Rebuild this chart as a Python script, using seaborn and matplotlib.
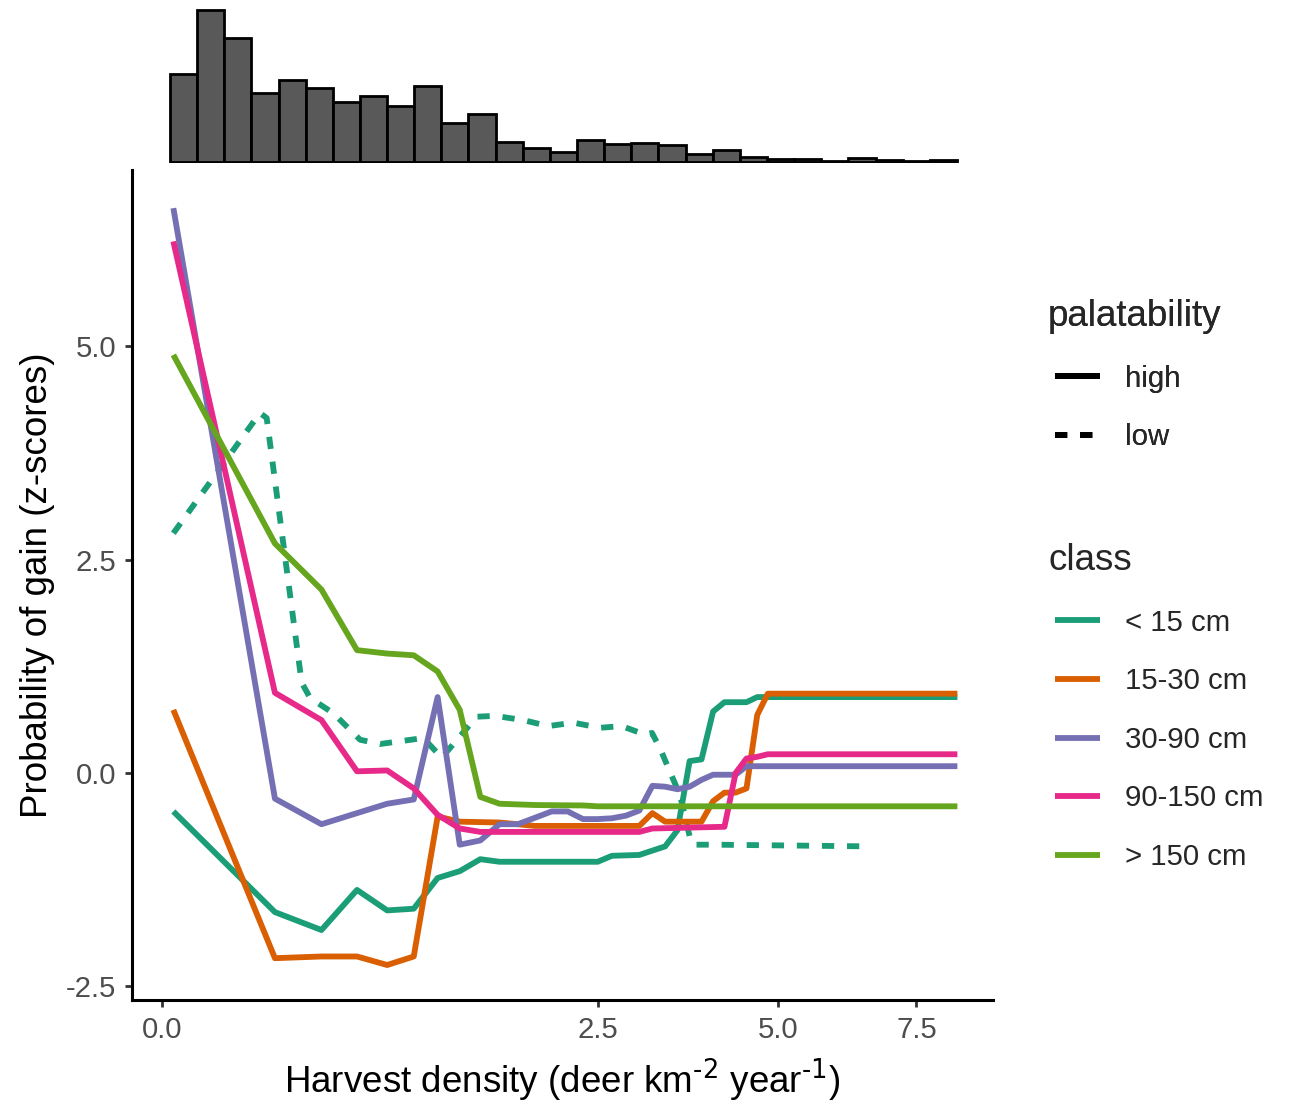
import numpy as np
import pandas as pd
import matplotlib
matplotlib.use("Agg")
import matplotlib.pyplot as plt
import seaborn as sns
from matplotlib.lines import Line2D
from matplotlib.legend_handler import HandlerLine2D

# -------------------------
# Data
# -------------------------
CLASSES = ["< 15 cm", "15-30 cm", "30-90 cm", "90-150 cm", "> 150 cm"]
COLORS = ["#1B9E77", "#D95F02", "#7570B3", "#E7298A", "#66A61E"]

# high palatability curves
x_lt15 = [0.0017, 0.168, 0.335, 0.501, 0.668, 0.835, 1.001, 1.168, 1.335, 1.501,
          2.501, 2.668, 3.001, 3.335, 3.501, 3.668, 3.835, 4.001, 4.168, 4.501,
          4.668, 8.335]
y_lt15 = [-0.45, -1.63, -1.84, -1.37, -1.61, -1.59, -1.23, -1.15, -1.01, -1.04,
          -1.04, -0.97, -0.96, -0.86, -0.67, 0.14, 0.16, 0.72, 0.83, 0.83,
          0.89, 0.89]

x_15_30 = [0.0017, 0.168, 0.335, 0.501, 0.668, 0.835, 1.001, 1.168, 1.501, 1.835,
           3.001, 3.168, 3.335, 3.835, 4.001, 4.168, 4.335, 4.501, 4.668, 4.835,
           8.335]
y_15_30 = [0.74, -2.17, -2.15, -2.15, -2.25, -2.15, -0.51, -0.57, -0.58, -0.62,
           -0.62, -0.47, -0.57, -0.57, -0.33, -0.23, -0.23, -0.18, 0.68, 0.93,
           0.93]

x_30_90 = [0.0017, 0.168, 0.335, 0.501, 0.668, 0.835, 1.001, 1.168, 1.335, 1.501,
           1.668, 2.001, 2.168, 2.335, 2.501, 2.668, 2.835, 3.001, 3.168, 3.335,
           3.501, 3.668, 3.835, 4.001, 4.335, 4.501, 8.335]
y_30_90 = [6.62, -0.30, -0.60, -0.47, -0.36, -0.31, 0.89, -0.84, -0.79, -0.60,
           -0.60, -0.45, -0.45, -0.54, -0.54, -0.53, -0.50, -0.44, -0.15, -0.16,
           -0.19, -0.16, -0.08, -0.02, -0.02, 0.08, 0.08]

x_90_150 = [0.0017, 0.168, 0.335, 0.501, 0.668, 0.835, 1.001, 1.168, 1.335,
            3.001, 3.168, 4.168, 4.335, 4.501, 4.668, 4.835, 8.335]
y_90_150 = [6.23, 0.94, 0.62, 0.02, 0.03, -0.18, -0.49, -0.65, -0.69,
            -0.69, -0.65, -0.63, 0.0, 0.17, 0.19, 0.22, 0.22]

x_gt150 = [0.0017, 0.168, 0.335, 0.501, 0.668, 0.835, 1.001, 1.168, 1.335, 1.501,
           1.835, 2.335, 2.501, 8.335]
y_gt150 = [4.90, 2.69, 2.15, 1.44, 1.40, 1.38, 1.19, 0.74, -0.28, -0.36,
           -0.375, -0.38, -0.39, -0.39]

# low palatability (< 15 cm only)
x_lt15_low = [0.0017, 0.1265, 0.1444, 0.257, 0.289, 0.387, 0.517, 0.626, 0.900,
              1.031, 1.305, 1.461, 1.720, 1.966, 2.229, 2.528, 2.784, 3.074,
              3.163, 3.267, 3.535, 3.673, 3.719, 4.054, 6.636]
y_lt15_low = [2.81, 4.22, 4.16, 1.06, 0.88, 0.70, 0.39, 0.34, 0.41,
              0.18, 0.66, 0.67, 0.62, 0.55, 0.59, 0.53, 0.55, 0.45,
              0.47, 0.29, -0.26, -0.76, -0.84, -0.84, -0.86]

# marginal histogram of harvest density (counts per bin, bins equal in sqrt scale)
hist_counts = [88, 152, 124, 69, 82, 74, 60, 66, 56, 76, 39, 48, 20, 14, 10,
               22, 18, 19, 17, 8, 12, 5, 3, 3, 1, 4, 2, 1, 2]
hist_sqrt_start = 0.029
hist_sqrt_width = 0.0985


def fwd(x):
    x = np.asarray(x, dtype=float)
    return np.sign(x) * np.sqrt(np.abs(x))


def inv(y):
    y = np.asarray(y, dtype=float)
    return np.sign(y) * y ** 2


def main():
    sns.set_theme(style="ticks")
    plt.rcParams["font.family"] = ["Liberation Sans", "DejaVu Sans"]
    plt.rcParams["mathtext.default"] = "regular"
    plt.rcParams["axes.unicode_minus"] = False
    plt.rcParams["lines.solid_capstyle"] = "butt"
    plt.rcParams["lines.dash_capstyle"] = "butt"
    plt.rcParams["lines.solid_joinstyle"] = "round"
    plt.rcParams["lines.dash_joinstyle"] = "round"

    series = [
        (CLASSES[0], "high", x_lt15, y_lt15),
        (CLASSES[1], "high", x_15_30, y_15_30),
        (CLASSES[2], "high", x_30_90, y_30_90),
        (CLASSES[3], "high", x_90_150, y_90_150),
        (CLASSES[4], "high", x_gt150, y_gt150),
        (CLASSES[0], "low", x_lt15_low, y_lt15_low),
    ]
    df = pd.concat(
        [pd.DataFrame({"harvest": xs, "z": ys, "class": c, "palatability": p})
         for c, p, xs, ys in series],
        ignore_index=True,
    )

    W, H = 1294, 1104
    fig = plt.figure(figsize=(W / 100, H / 100), dpi=100)
    fig.patch.set_facecolor("white")

    left, right, top, bottom = 132, 993, 170, 1000
    ax = fig.add_axes([left / W, 1 - bottom / H, (right - left) / W, (bottom - top) / H])
    axh = fig.add_axes([left / W, 1 - 163 / H, (right - left) / W, 161 / H])

    xlim = (float(inv(-0.1089)), float(inv(3.0163)))
    for a in (ax, axh):
        a.set_xscale("function", functions=(fwd, inv))

    # main curves
    sns.lineplot(
        data=df, x="harvest", y="z", hue="class", style="palatability",
        hue_order=CLASSES, style_order=["high", "low"], palette=COLORS,
        dashes={"high": "", "low": (2.1, 2.2)}, estimator=None,
        linewidth=4.2, legend=False, ax=ax,
    )
    ax.set_xlim(*xlim)
    ax.set_ylim(-2.660, 7.067)
    ax.set_xticks([0, 2.5, 5, 7.5])
    ax.set_xticklabels(["0.0", "2.5", "5.0", "7.5"])
    ax.set_yticks([-2.5, 0, 2.5, 5])
    ax.set_yticklabels(["-2.5", "0.0", "2.5", "5.0"])
    ax.minorticks_off()
    sns.despine(ax=ax)
    for s in ("left", "bottom"):
        ax.spines[s].set_linewidth(2.2)
        ax.spines[s].set_color("black")
    ax.tick_params(axis="both", length=5.3, width=2.0, color="#333333",
                   labelsize=21.2, labelcolor="#4D4D4D")
    ax.tick_params(axis="x", pad=6)
    ax.tick_params(axis="y", pad=6)
    ax.set_xlabel(r"Harvest density (deer km$^{\text{-2}}$ year$^{\text{-1}}$)",
                  fontsize=26.5, color="black", labelpad=9)
    ax.set_ylabel("Probability of gain (z-scores)", fontsize=26.5,
                  color="black", labelpad=8)

    # marginal histogram: seaborn bins in the axis' (sqrt) scale space
    k = np.arange(len(hist_counts))
    edges = [float(e) for e in hist_sqrt_start + hist_sqrt_width * np.arange(len(hist_counts) + 1)]
    hist_df = pd.DataFrame({
        "harvest": (hist_sqrt_start + hist_sqrt_width * (k + 0.5)) ** 2,
        "n": hist_counts,
    })
    sns.histplot(data=hist_df, x="harvest", weights="n", bins=edges, ax=axh,
                 color="#595959", edgecolor="black", linewidth=2.0, alpha=1.0)
    axh.set_xlim(*xlim)
    axh.set_ylim(-1.3, 159.7)
    axh.axis("off")

    # legends
    hmap = {Line2D: HandlerLine2D(xpad=0.24)}
    leg_kw = dict(loc="upper left", frameon=False, borderpad=0, borderaxespad=0,
                  handlelength=1.78, handletextpad=0.85, labelspacing=1.04,
                  fontsize=21.2, title_fontsize=26.5, alignment="left",
                  handler_map=hmap)
    pal_handles = [
        Line2D([], [], color="black", lw=4.2, linestyle="-"),
        Line2D([], [], color="black", lw=4.2, dashes=(2.1, 2.2)),
    ]
    leg1 = fig.legend(pal_handles, ["high", "low"], title="palatability",
                      bbox_to_anchor=(1048 / W, 1 - 299 / H), **leg_kw)
    cls_handles = [Line2D([], [], color=c, lw=4.2) for c in COLORS]
    fig.legend(cls_handles, CLASSES, title="class",
               bbox_to_anchor=(1048 / W, 1 - 543 / H), **leg_kw)
    fig.add_artist(leg1)

    fig.savefig("out.png", dpi=100)
    plt.close(fig)


if __name__ == "__main__":
    main()
